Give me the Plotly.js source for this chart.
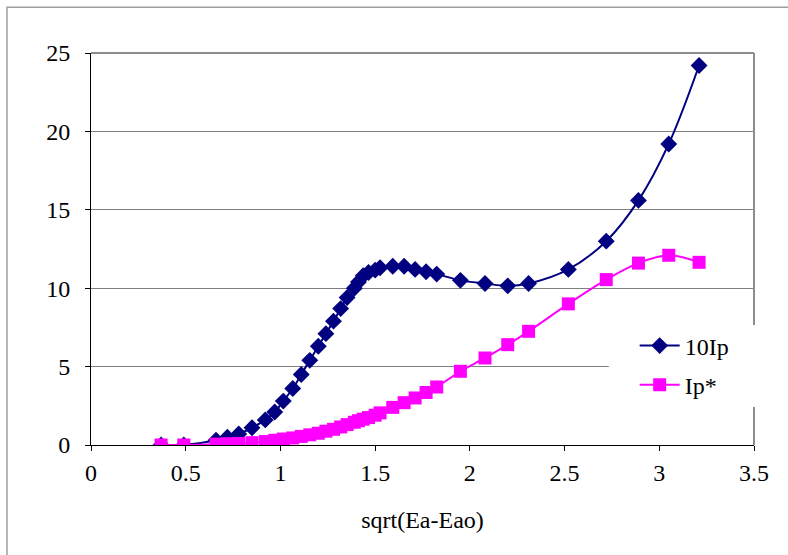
<!DOCTYPE html>
<html><head><meta charset="utf-8">
<script src="https://cdn.plot.ly/plotly-3.0.1.min.js"></script>
<style>html,body{margin:0;padding:0;background:#fff;}#chart{width:788px;height:555px;}</style>
</head><body><div id="chart"></div>
<script>
const xVals = [0.37, 0.49, 0.66, 0.72, 0.78, 0.85, 0.92, 0.97, 1.015, 1.065, 1.11, 1.155, 1.2, 1.24, 1.28, 1.318, 1.352, 1.39, 1.412, 1.437, 1.465, 1.5, 1.526, 1.593, 1.653, 1.711, 1.769, 1.825, 1.95, 2.08, 2.2, 2.31, 2.52, 2.72, 2.89, 3.05, 3.21];
const tenIp = [0, 0, 0.3, 0.5, 0.7, 1.1, 1.6, 2.1, 2.8, 3.6, 4.5, 5.4, 6.3, 7.1, 7.9, 8.7, 9.4, 10.0, 10.4, 10.8, 11.0, 11.15, 11.3, 11.4, 11.4, 11.2, 11.05, 10.9, 10.5, 10.3, 10.15, 10.3, 11.2, 13.0, 15.6, 19.2, 24.2];
const ipStar = [0, 0, 0.05, 0.08, 0.1, 0.15, 0.22, 0.3, 0.38, 0.45, 0.55, 0.65, 0.75, 0.88, 1.0, 1.15, 1.3, 1.45, 1.55, 1.65, 1.75, 1.9, 2.05, 2.4, 2.7, 3.0, 3.35, 3.7, 4.7, 5.55, 6.4, 7.25, 9.0, 10.55, 11.6, 12.1, 11.65];
const seriesNames = ['10Ip', 'Ip*'];
const xTickVals = [0, 0.5, 1, 1.5, 2, 2.5, 3, 3.5];
const xTickText = ['0', '0.5', '1', '1.5', '2', '2.5', '3', '3.5'];
const yTickVals = [0, 5, 10, 15, 20, 25];
const yTickText = ['0', '5', '10', '15', '20', '25'];
const xTitle = 'sqrt(Ea-Eao)';

const fontFam = 'Liberation Serif';
const fnt = {family: fontFam, size: 24, color: '#000'};
const traces = [
  {x: xVals, y: tenIp, name: seriesNames[0], legendgroup: 'a', type: 'scatter', mode: 'lines+markers',
   line: {color: '#000080', width: 2, shape: 'spline'},
   marker: {symbol: 'diamond', size: 13, color: '#000080'}},
  {x: xVals, y: ipStar, name: seriesNames[1], legendgroup: 'b', type: 'scatter', mode: 'lines+markers',
   line: {color: '#FF00FF', width: 2, shape: 'spline'},
   marker: {symbol: 'square', size: 13, color: '#FF00FF'}}
];
const layout = {
  width: 788, height: 555,
  margin: {l: 91, r: 34, t: 53, b: 110},
  paper_bgcolor: '#fff', plot_bgcolor: '#fff',
  font: fnt,
  showlegend: true,
  legend: {x: 0.82, y: 0.31, xanchor: 'left', yanchor: 'top', bgcolor: 'rgba(0,0,0,0)',
    tracegroupgap: 5, font: fnt, itemwidth: 40},
  xaxis: {range: [0, 3.5], tickvals: xTickVals, ticktext: xTickText, tickfont: fnt,
    showgrid: false, zeroline: false, showline: true, linecolor: '#000', linewidth: 1,
    ticks: 'outside', ticklen: 5, tickcolor: '#000', ticklabelstandoff: 1,
    title: {text: xTitle, standoff: 26, font: fnt}, automargin: false},
  yaxis: {range: [0, 25], tickvals: yTickVals, ticktext: yTickText, tickfont: fnt,
    showgrid: true, gridcolor: '#808080', gridwidth: 1, zeroline: false,
    showline: true, linecolor: '#000', linewidth: 1,
    ticks: 'outside', ticklen: 5, tickcolor: '#000', ticklabelstandoff: 10, automargin: false},
  shapes: [
    {type: 'line', xref: 'paper', yref: 'paper', x0: 0, x1: 1, y0: 1, y1: 1, line: {color: '#8c8c8c', width: 2}},
    {type: 'line', xref: 'paper', yref: 'paper', x0: 1, x1: 1, y0: 0, y1: 1, line: {color: '#8c8c8c', width: 2}},
    {type: 'rect', xref: 'paper', yref: 'paper', x0: 0.781, x1: 1.005, y0: 0.097, y1: 0.306, fillcolor: '#fff', line: {width: 0}, layer: 'above'},
    {type: 'rect', xref: 'paper', yref: 'paper', x0: -0.1267, x1: 1.08, y0: -0.35, y1: 1.117, line: {color: '#a0a0a0', width: 1.5}}
  ]
};
Plotly.newPlot('chart', traces, layout, {displayModeBar: false, staticPlot: true});
</script></body></html>
